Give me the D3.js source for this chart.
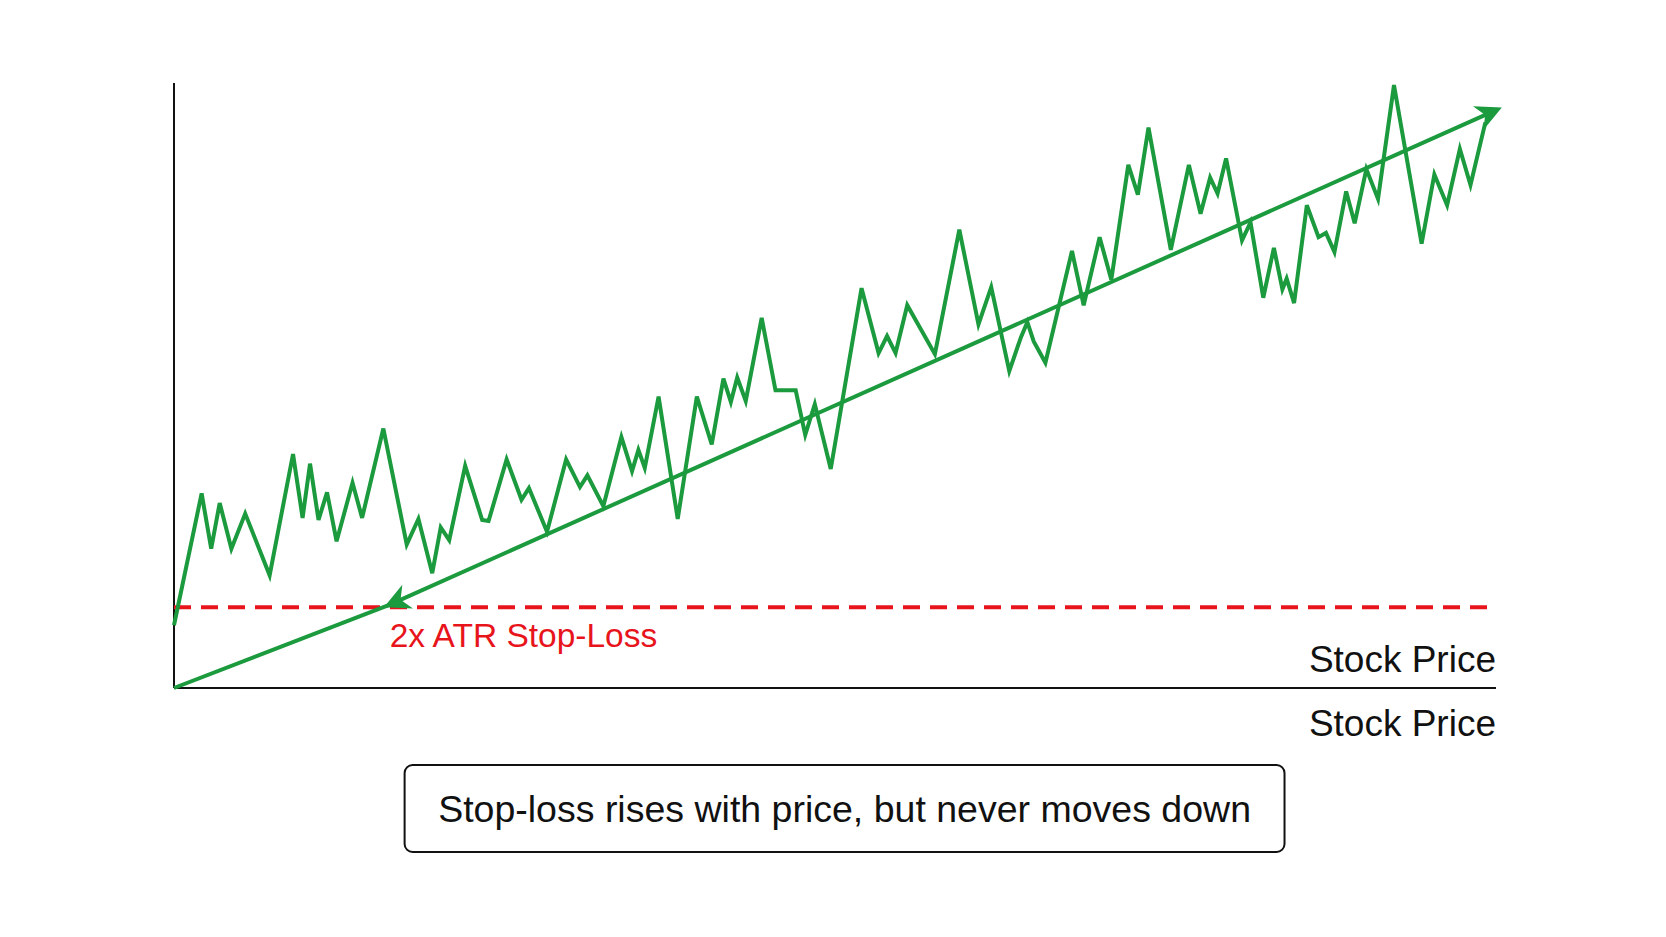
<!DOCTYPE html>
<html><head><meta charset="utf-8">
<script src="https://cdn.jsdelivr.net/npm/d3@7"></script>
<style>body{margin:0;background:#fff}</style></head>
<body><svg id="c" width="1666" height="937"></svg>
<script>
const priceTime=[0,26,35,43,54,67,90,112,121,128,136,144,153,168,177,197,219,230,243,251,259,274,290,296,313,327,334,351,369,382,389,404,421,431,437,443,456,474,492,506,517,524,530,538,553,566,585,594,603,618,647,663,671,679,690,716,739,757,769,786,797,803,809,820,845,856,871,882,898,907,917,938,955,966,975,982,990,1005,1013,1025,1035,1043,1047,1054,1066,1077,1084,1092,1103,1111,1122,1133,1148,1174,1186,1198,1210,1220,1234];
const priceValue=[59,183,131,174,131,164,106,220,160,211,158,184,138,193,160,244,135,159,108,151,139,209,158,157,215,177,188,147,215,189,200,171,236,204,224,207,274,159,274,229,291,269,292,270,348,280,280,238,267,206,376,315,331,315,360,314,431,342,377,298,330,344,326,306,411,360,424,384,492,464,527,412,492,446,480,465,498,421,438,367,414,375,385,362,454,424,428,410,467,437,488,460,567,418,483,454,507,473,532];
const trendTime=[0,202,1245];
const trendValue=[0,78,544];
const stopLevel=76;
const stopLabel="2x ATR Stop-Loss";
const axisLabel="Stock Price";
const caption="Stop-loss rises with price, but never moves down";

const svg=d3.select("#c");
const x=d3.scaleLinear().domain([0,1244]).range([174,1496]);
const y=d3.scaleLinear().domain([0,569]).range([688,83]);
const green="#1b9a3e", red="#e8141c";
const defs=svg.append("defs");
defs.append("marker").attr("id","ah").attr("viewBox","0 0 10 10").attr("refX",8).attr("refY",5)
 .attr("markerWidth",6.5).attr("markerHeight",6.5).attr("orient","auto-start-reverse").attr("markerUnits","strokeWidth")
 .append("path").attr("d","M0,0L10,5L0,10L3,5Z").attr("fill",green);

svg.append("line").attr("x1",x(0)).attr("x2",x(0)).attr("y1",y(569)).attr("y2",y(0)).attr("stroke","#111").attr("stroke-width",2);
svg.append("line").attr("x1",x(0)).attr("x2",x(1244)).attr("y1",y(0)).attr("y2",y(0)).attr("stroke","#111").attr("stroke-width",2);

svg.append("line").attr("x1",x(0)).attr("x2",x(1244)).attr("y1",y(stopLevel)).attr("y2",y(stopLevel))
 .attr("stroke",red).attr("stroke-width",4).attr("stroke-dasharray","17,10");

// trend: lower segment with arrow pointing back at stop level, upper segment with arrow at end
svg.append("line").attr("x1",x(trendTime[1])).attr("y1",y(trendValue[1])).attr("x2",x(trendTime[2])).attr("y2",y(trendValue[2]))
 .attr("stroke",green).attr("stroke-width",4).attr("marker-start","url(#ah)").attr("marker-end","url(#ah)");
svg.append("line").attr("x1",x(trendTime[0])).attr("y1",y(trendValue[0])).attr("x2",x(trendTime[1])).attr("y2",y(trendValue[1]))
 .attr("stroke",green).attr("stroke-width",4);

const line=d3.line().x((d,i)=>x(priceTime[i])).y((d,i)=>y(priceValue[i]));
svg.append("path").attr("d",line(priceValue)).attr("fill","none").attr("stroke",green).attr("stroke-width",4).attr("stroke-linejoin","miter");

const F="Liberation Sans, Arial, sans-serif";
svg.append("text").attr("x",x(203)).attr("y",y(39)).attr("fill",red).attr("font-family",F).attr("font-size",33.5).text(stopLabel);
svg.append("text").attr("x",x(1244)).attr("y",y(15)).attr("text-anchor","end").attr("font-family",F).attr("font-size",37).attr("fill","#111").text(axisLabel);
svg.append("text").attr("x",x(1244)).attr("y",y(0)+48).attr("text-anchor","end").attr("font-family",F).attr("font-size",37).attr("fill","#111").text(axisLabel);

const bx0=x(217), bx1=x(1045);
svg.append("rect").attr("x",bx0).attr("y",765).attr("width",bx1-bx0).attr("height",87).attr("rx",8)
 .attr("fill","#fff").attr("stroke","#111").attr("stroke-width",2);
svg.append("text").attr("x",(bx0+bx1)/2).attr("y",822).attr("text-anchor","middle").attr("font-family",F).attr("font-size",37.5).attr("fill","#111").text(caption);
</script></body></html>
